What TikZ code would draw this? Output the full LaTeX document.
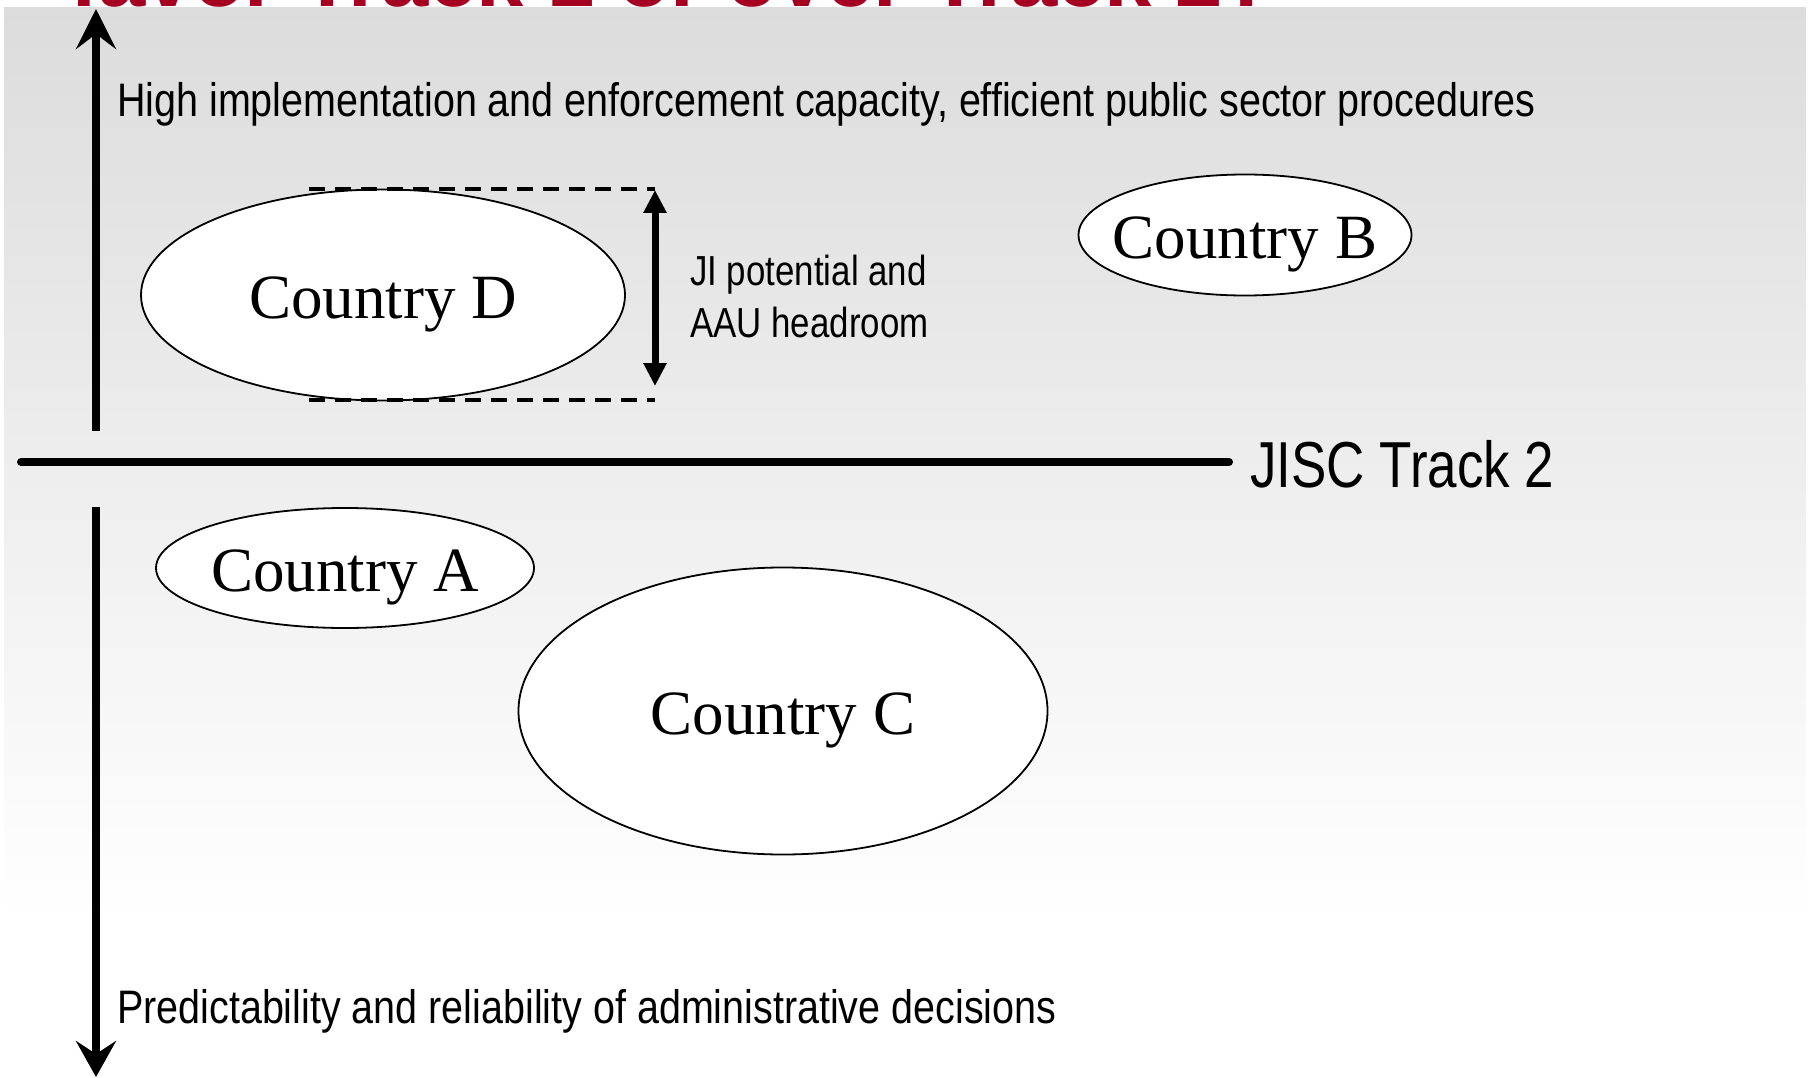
\documentclass[tikz,border=0pt]{standalone}
\usepackage{fontspec}
\setmainfont{Liberation Serif}
\newfontfamily\axissans[FakeStretch=0.84]{Liberation Sans}
\newfontfamily\notesans[FakeStretch=0.83]{Liberation Sans}
\newfontfamily\jiscsans[FakeStretch=0.815]{Liberation Sans}
\newfontfamily\titlesans{Liberation Sans}
\usetikzlibrary{shapes.geometric,arrows.meta}
\definecolor{titlered}{RGB}{165,0,33}
\definecolor{panelgray}{RGB}{220,220,220}
\begin{document}
\begin{tikzpicture}[x=1pt,y=-1pt,
  country/.style={ellipse,draw=black,line width=1.8pt,fill=white,inner sep=0pt},
  countrytext/.style={inner sep=0pt,text height=46pt,text depth=0pt,font=\fontsize{63}{66}\selectfont},
  axislabel/.style={anchor=base west,inner sep=0pt,font=\axissans\fontsize{47}{50}\selectfont},
  notelabel/.style={anchor=base west,inner sep=0pt,font=\notesans\fontsize{42}{46}\selectfont},
  axisline/.style={line width=8pt},
  bigtip/.style={-{Stealth[length=40pt,width=40pt,inset=15pt]}},
  guide/.style={line width=4pt,dash pattern=on 16pt off 10pt},
  headroom/.style={line width=7pt,{Triangle[length=23pt,width=22pt]}-{Triangle[length=23pt,width=22pt]}}]
\useasboundingbox (0,0) rectangle (1809,1078);
\clip (0,0) rectangle (1809,1078);
% title, cut off at the top
\node[anchor=base west,inner sep=0pt,text=titlered,
  font=\titlesans\bfseries\fontsize{85}{88}\selectfont] (title) at (70,7) {favor Track 1 or over Track 2?};
% background panel
\shade[top color=panelgray,bottom color=white] (4,8) rectangle (1806,920);
% axes
\coordinate (upfoot) at (96,431);
\coordinate (uptip) at (96,9);
\coordinate (downfoot) at (96,507);
\coordinate (downtip) at (96,1077);
\coordinate (hleft) at (21,462);
\coordinate (hright) at (1229,462);
\draw[axisline,bigtip] (upfoot) -- (uptip);
\draw[axisline,-{Stealth[length=36pt,width=40pt,inset=13pt]}] (downfoot) -- (downtip);
\draw[axisline,line cap=round] (hleft) -- (hright);
% labels
\node[axislabel] (toplabel) at (117,117) {High implementation and enforcement capacity, efficient public sector procedures};
\node[axislabel] (botlabel) at (117,1023) {Predictability and reliability of administrative decisions};
\node[anchor=base west,inner sep=0pt,font=\jiscsans\fontsize{65}{68}\selectfont] (jisc) at (1250,487) {JISC Track 2};
% countries
\node[country,minimum width=484pt,minimum height=211pt] (D) at (383,295) {};
\node[country,minimum width=333pt,minimum height=121pt] (B) at (1245,235) {};
\node[country,minimum width=378pt,minimum height=120pt] (A) at (345,568) {};
\node[country,minimum width=529pt,minimum height=287pt] (C) at (783,711) {};
\node[countrytext] (Dtext) at (D.center) {Country D};
\node[countrytext] (Btext) at (B.center) {Country B};
\node[countrytext] (Atext) at (A.center) {Country A};
\node[countrytext] (Ctext) at (C.center) {Country C};
% headroom indicator
\coordinate (dtl) at (309,189);
\coordinate (dtr) at (655,189);
\coordinate (dbl) at (309,400);
\coordinate (dbr) at (655,400);
\coordinate (hrtop) at (655,190);
\coordinate (hrbot) at (655,386);
\draw[guide] (dtl) -- (dtr);
\draw[guide] (dbl) -- (dbr);
\draw[headroom] (hrtop) -- (hrbot);
\node[notelabel] (ji1) at (690,285) {JI potential and};
\node[notelabel] (ji2) at (690,337) {AAU headroom};
\end{tikzpicture}
\end{document}
